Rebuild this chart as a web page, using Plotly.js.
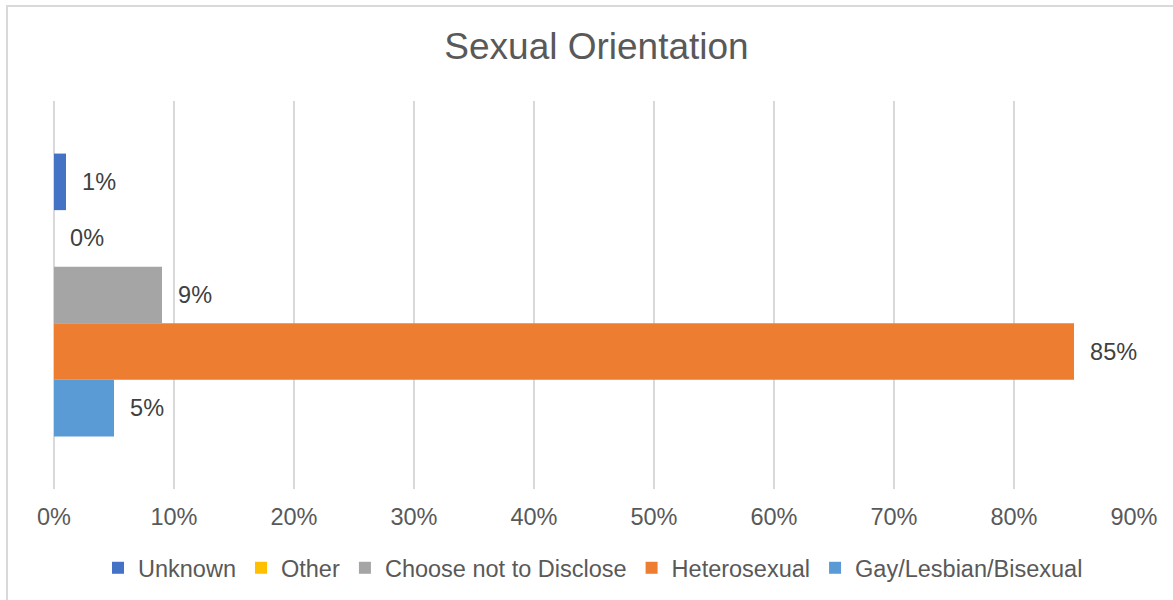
<!DOCTYPE html>
<html>
<head>
<meta charset="utf-8">
<script src="https://cdn.plot.ly/plotly-3.0.1.min.js"></script>
<style>
  html, body { margin: 0; padding: 0; background: #ffffff; }
  #wrap { position: relative; width: 1173px; height: 600px; overflow: hidden; }
  #chart { width: 1173px; height: 600px; }
  #frame { position: absolute; left: 6px; top: 5px; width: 1200px; height: 640px;
           border: 2px solid #d9d9d9; box-sizing: border-box; pointer-events: none; }
</style>
</head>
<body>
<div id="wrap">
  <div id="chart"></div>
  <div id="frame"></div>
</div>
<script>
// Data (bottom-to-top order in the chart)
const seriesNames = ['Gay/Lesbian/Bisexual', 'Heterosexual', 'Choose not to Disclose', 'Other', 'Unknown'];
const seriesValues = [0.05, 0.85, 0.09, 0.00, 0.01];
const seriesColors = ['#5B9BD5', '#ED7D31', '#A5A5A5', '#FFC000', '#4472C4'];
const category = ['Sexual Orientation'];
const chartTitle = 'Sexual Orientation';
const tickValues = [0, 0.1, 0.2, 0.3, 0.4, 0.5, 0.6, 0.7, 0.8, 0.9];

const FONT = '"Liberation Sans", Arial, sans-serif';
const pad = '\u00a0\u00a0';

const traces = seriesNames.map((name, i) => ({
  type: 'bar',
  orientation: 'h',
  name: name,
  y: category,
  x: [seriesValues[i]],
  marker: { color: seriesColors[i], line: { width: 0 } },
  text: [pad + Math.round(seriesValues[i] * 100) + '%'],
  textposition: 'outside',
  cliponaxis: false,
  constraintext: 'none',
  textfont: { family: FONT, size: 23.5, color: '#404040' },
  hoverinfo: 'skip'
}));

const layout = {
  width: 1173,
  height: 600,
  paper_bgcolor: '#ffffff',
  plot_bgcolor: '#ffffff',
  barmode: 'group',
  bargap: 0.271,
  bargroupgap: 0,
  margin: { l: 53.5, r: 39, t: 101, b: 111, pad: 0 },
  title: {
    text: chartTitle,
    font: { family: FONT, size: 37, color: '#595959' },
    x: 596.5 / 1173,
    xanchor: 'center',
    xref: 'container',
    y: 1 - 46 / 600,
    yanchor: 'middle',
    yref: 'container'
  },
  xaxis: {
    range: [0, 0.9],
    tickvals: tickValues,
    tickformat: '.0%',
    showgrid: true,
    gridcolor: '#d9d9d9',
    gridwidth: 1.5,
    zeroline: true,
    zerolinecolor: '#d9d9d9',
    zerolinewidth: 1.5,
    showline: false,
    ticks: '',
    ticklabelstandoff: 11,
    tickfont: { family: FONT, size: 23.5, color: '#595959' },
    fixedrange: true
  },
  yaxis: {
    showticklabels: false,
    showgrid: false,
    zeroline: false,
    showline: false,
    ticks: '',
    fixedrange: true
  },
  showlegend: true,
  legend: {
    orientation: 'h',
    traceorder: 'reversed',
    x: 593 / 1173,
    xanchor: 'center',
    xref: 'container',
    y: 1 - 568 / 600,
    yanchor: 'middle',
    yref: 'container',
    font: { family: FONT, size: 23.5, color: '#595959' },
    bgcolor: 'rgba(0,0,0,0)',
    itemclick: false,
    itemdoubleclick: false
  }
};

Plotly.newPlot('chart', traces, layout, { displayModeBar: false, staticPlot: true });
</script>
</body>
</html>
